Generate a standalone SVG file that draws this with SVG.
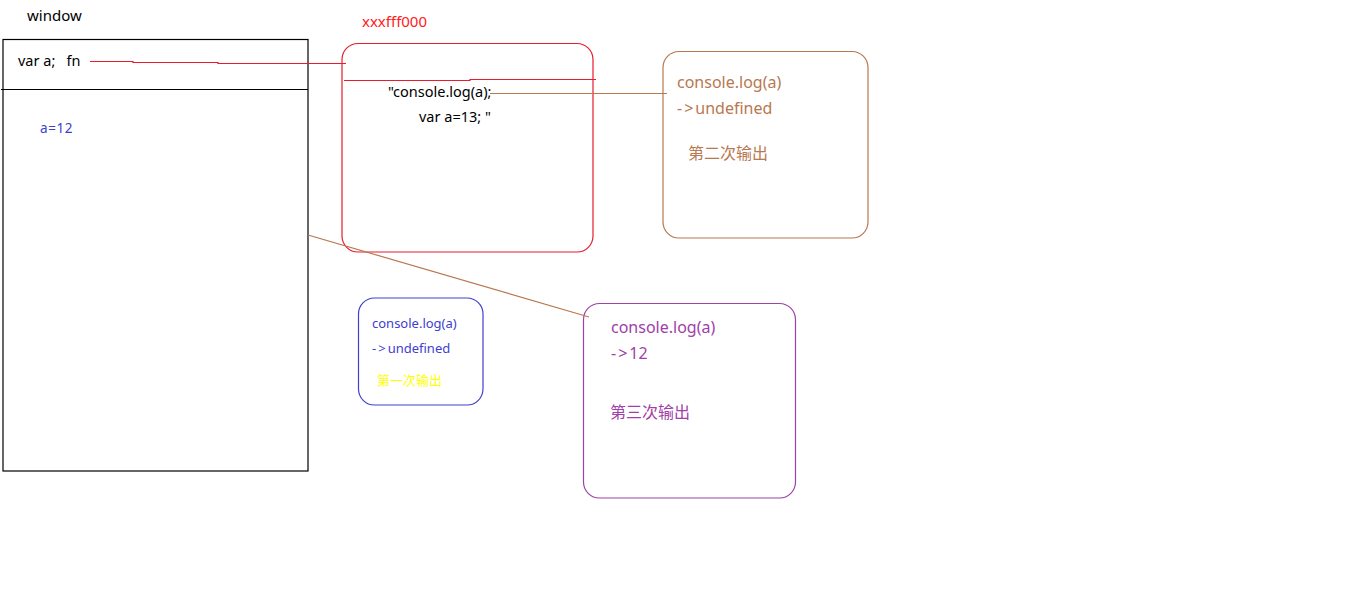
<svg xmlns="http://www.w3.org/2000/svg" width="1353" height="594" viewBox="0 0 1353 594">
<style>
text { font-family: "Noto Sans", "Noto Sans CJK SC", sans-serif; }
.blk { fill: #000; }
.box { fill: none; stroke-width: 1.2; }
.arr { letter-spacing: 2px; }
</style>
<rect width="1353" height="594" fill="#fff"/>
<g id="window">
  <text class="blk" x="27" y="21" font-size="15">window</text>
  <rect x="3" y="39.5" width="305" height="431.5" fill="none" stroke="#000" stroke-width="1.2"/>
  <line x1="1" y1="89.5" x2="308" y2="89.5" stroke="#000" stroke-width="1.2"/>
  <text class="blk" x="18" y="66" font-size="14.5" xml:space="preserve">var a;   fn</text>
  <text x="40" y="133" font-size="13.5" fill="#4040D0" letter-spacing="0.6">a=12</text>
</g>
<g id="heap">
  <text x="362" y="27" font-size="15" fill="#FF2020">xxxfff000</text>
  <rect class="box" x="342" y="43.5" width="251" height="208.5" rx="16" stroke="#E81C2C"/>
  <text class="blk" x="388" y="97" font-size="14.5">"console.log(a);</text>
  <text class="blk" x="419" y="122" font-size="14.5">var a=13; "</text>
</g>
<g id="out2">
  <rect class="box" x="663" y="51.5" width="205" height="186.5" rx="16" stroke="#B87850"/>
  <text x="677" y="88" font-size="16" fill="#B87850">console.log(a)</text>
  <text x="677" y="114" font-size="16" fill="#B87850"><tspan class="arr">-&gt;</tspan>undefined</text>
  <text x="688" y="159" font-size="16" fill="#B87850">第二次输出</text>
</g>
<g id="out1">
  <rect class="box" x="358.5" y="298" width="124.5" height="107" rx="16" stroke="#4040D0"/>
  <text x="372" y="328" font-size="13" fill="#4040D0">console.log(a)</text>
  <text x="372" y="353" font-size="13" fill="#4040D0"><tspan class="arr">-&gt;</tspan>undefined</text>
  <text x="377" y="385" font-size="13" fill="#FFFF00">第一次输出</text>
</g>
<g id="out3">
  <rect class="box" x="583.5" y="303.5" width="212" height="194.5" rx="16" stroke="#A040A8"/>
  <text x="611" y="333" font-size="16" fill="#A040A8">console.log(a)</text>
  <text x="611" y="359" font-size="16" fill="#A040A8"><tspan class="arr">-&gt;</tspan>12</text>
  <text x="610" y="418" font-size="16" fill="#A040A8">第三次输出</text>
</g>
<g id="connectors" fill="none">
  <polyline points="90,61.5 133,61.5 133,62.5 218,62.5 218,63.5 303,63.5 346,63.5" stroke="#E81C2C" stroke-width="1.2"/>
  <polyline points="344,80.5 470,80.5 470,79.5 596,79.5" stroke="#E81C2C" stroke-width="1.2"/>
  <line x1="490" y1="93.5" x2="667" y2="93.5" stroke="#B87850" stroke-width="1.2"/>
  <line x1="308" y1="235" x2="589" y2="317" stroke="#B87850" stroke-width="1.2"/>
</g>
</svg>
